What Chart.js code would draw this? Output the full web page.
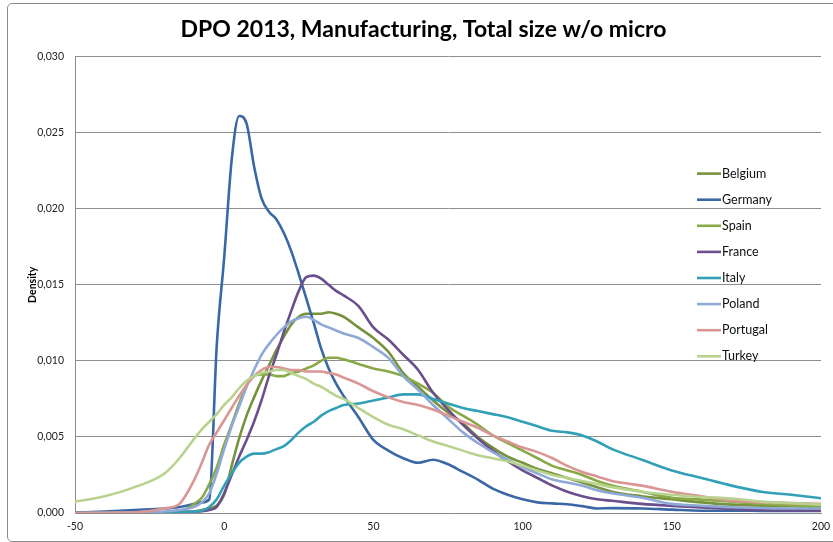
<!DOCTYPE html>
<html>
<head>
<meta charset="utf-8">
<script src="https://cdn.jsdelivr.net/npm/chart.js@4/dist/chart.umd.min.js"></script>
<style>
  html, body { margin: 0; padding: 0; background: #fff; overflow: hidden; }
  #wrap { position: relative; width: 833px; height: 542px; overflow: hidden; }
  #frame { position: absolute; left: 7px; top: 3px; width: 840px; height: 537px; border: 1px solid #8c8c8c; border-radius: 5px; pointer-events: none; }
</style>
</head>
<body>
<div id="wrap">
  <canvas id="c" width="833" height="542"></canvas>
  <div id="frame"></div>
</div>
<script>
const chartTitle = 'DPO 2013, Manufacturing, Total size w/o micro';
const yTitle = 'Density';
const seriesNames = ['Belgium', 'Germany', 'Spain', 'France', 'Italy', 'Poland', 'Portugal', 'Turkey'];
const seriesColors = ['#76923C', '#3A68A6', '#88A946', '#6A4E8D', '#32A0B7', '#8EA9D6', '#D99694', '#B9D38F'];

const xValues = [-50,-40,-30,-20,-15,-10,-7.5,-5,-2.5,
  0,2.5,5,7.5,10,12.5,15,17.5,20,22.5,25,27.5,30,32.5,35,37.5,40,
  45,50,55,60,65,70,75,80,85,90,95,100,105,110,115,120,125,130,
  140,150,160,170,180,190,200];

const belgium = [0,0,0,0.00002,0.00005,0.0001,0.0002,0.0003,0.0005,
  0.0012,0.0031,0.0049,0.0064,0.0076,0.0087,0.0097,0.0107,0.0116,0.0124,0.0129,0.0131,0.0131,0.0131,0.0132,0.0131,0.0129,
  0.0122,0.0115,0.0106,0.0092,0.0083,0.0074,0.0066,0.0059,0.0050,0.0043,0.0037,0.0033,0.0029,0.0026,0.0023,0.0020,0.0017,0.0014,
  0.0011,0.0009,0.0007,0.00055,0.00048,0.00045,0.0004];

const germany = [0.00003,0.0001,0.0002,0.0003,0.0004,0.0006,0.0007,0.0009,0.0110,
  0.0168,0.0232,0.0261,0.0256,0.0228,0.0207,0.0198,0.0193,0.0184,0.0172,0.0157,0.0141,0.0125,0.0108,0.0095,0.0085,0.0077,
  0.0063,0.0048,0.0041,0.0036,0.0033,0.0035,0.0032,0.0027,0.0022,0.0016,0.0012,0.0009,0.0007,0.00063,0.00058,0.00045,0.0003,0.00032,
  0.0003,0.00022,0.00015,0.00015,0.00014,0.00013,0.00013];

const spain = [0,0,0.00001,0.00005,0.0001,0.0006,0.0010,0.0019,0.0030,
  0.0045,0.0058,0.0072,0.0084,0.0090,0.0091,0.0091,0.0090,0.0090,0.0092,0.0093,0.0095,0.0097,0.0100,0.0102,0.0102,0.0101,
  0.0098,0.0095,0.0093,0.0090,0.0085,0.0079,0.0070,0.0064,0.0058,0.0051,0.0046,0.0041,0.0036,0.0031,0.0028,0.0025,0.0021,0.0018,
  0.0014,0.0010,0.00088,0.00075,0.0006,0.0005,0.00045];

const france = [0,0,0,0.00002,0.00004,0.0001,0.00012,0.0002,0.0004,
  0.0013,0.0025,0.0037,0.0048,0.0060,0.0074,0.0090,0.0104,0.0119,0.0133,0.0146,0.0155,0.0156,0.0154,0.0150,0.0146,0.0143,
  0.0136,0.0122,0.0114,0.0104,0.0094,0.0079,0.0068,0.0058,0.0049,0.0041,0.0034,0.0028,0.0023,0.0018,0.0014,0.0011,0.0009,0.0008,
  0.0006,0.00047,0.00037,0.00027,0.0002,0.00017,0.00015];

const italy = [0,0,0,0.00002,0.00005,0.0001,0.00015,0.0004,0.0009,
  0.0018,0.0026,0.0033,0.0037,0.0039,0.0039,0.0040,0.0042,0.0044,0.0048,0.0053,0.0057,0.0060,0.0064,0.0067,0.0069,0.0071,
  0.0072,0.0074,0.0076,0.0078,0.0078,0.0075,0.0072,0.0069,0.0067,0.0065,0.0063,0.0060,0.0057,0.0054,0.0053,0.0051,0.0047,0.0042,
  0.0035,0.0028,0.0023,0.0018,0.0014,0.0012,0.00097];

const poland = [0,0.00001,0.00003,0.0001,0.0002,0.0004,0.0007,0.0013,0.0026,
  0.0042,0.0057,0.0070,0.0083,0.0094,0.0104,0.0111,0.0117,0.0122,0.0126,0.0128,0.0129,0.0127,0.0124,0.0122,0.0120,0.0118,
  0.0115,0.0109,0.0102,0.0090,0.0081,0.0071,0.0062,0.0053,0.0046,0.0040,0.0035,0.0030,0.0026,0.0022,0.0020,0.0018,0.0015,0.0013,
  0.0010,0.0006,0.00048,0.00038,0.00033,0.0003,0.0003];

const portugal = [0,0.00002,0.00005,0.0003,0.0006,0.0022,0.0033,0.0045,0.0053,
  0.0061,0.0069,0.0077,0.0084,0.0090,0.0094,0.0096,0.0096,0.0095,0.0094,0.0094,0.0093,0.0093,0.0093,0.0092,0.0091,0.0089,
  0.0085,0.0080,0.0076,0.0073,0.0071,0.0068,0.0064,0.0060,0.0056,0.0051,0.0047,0.0043,0.0040,0.0036,0.0031,0.0027,0.0024,0.0021,
  0.0018,0.0014,0.0011,0.0008,0.0007,0.00065,0.0006];

const turkey = [0.00075,0.0011,0.0017,0.0026,0.0036,0.0049,0.0055,0.0060,0.0065,
  0.0071,0.0076,0.0082,0.0087,0.0090,0.0092,0.0093,0.0094,0.0094,0.0092,0.0090,0.0088,0.0085,0.0083,0.0080,0.0077,0.0075,
  0.0069,0.0063,0.0058,0.0055,0.0051,0.0047,0.0044,0.0041,0.0038,0.0036,0.0034,0.0031,0.0028,0.0025,0.0023,0.0021,0.0019,0.0017,
  0.0014,0.0012,0.00105,0.00095,0.00075,0.00065,0.00055];

const xTicks = [-50, 0, 50, 100, 150, 200];
const yTicks = [0, 0.005, 0.010, 0.015, 0.020, 0.025, 0.030];

const seriesValues = [belgium, germany, spain, france, italy, poland, portugal, turkey];

const datasets = seriesNames.map((name, i) => ({
  label: name,
  data: xValues.map((x, j) => ({ x: x, y: seriesValues[i][j] })),
  borderColor: seriesColors[i],
  backgroundColor: seriesColors[i],
  borderWidth: 2.6,
  pointRadius: 0,
  fill: false,
  cubicInterpolationMode: 'monotone',
  order: seriesNames.length - i
}));

const FONT = 'Lato, "Open Sans", sans-serif';

const legendPlugin = {
  id: 'customLegend',
  afterDraw(chart) {
    const ctx = chart.ctx;
    const area = chart.chartArea;
    const x0 = area.left + 622;
    const y0 = area.top + 117;
    const step = 26.1;
    ctx.save();
    ctx.font = '12.5px ' + FONT;
    ctx.textBaseline = 'middle';
    ctx.textAlign = 'left';
    chart.data.datasets.forEach((ds, i) => {
      const y = y0 + i * step;
      ctx.strokeStyle = ds.borderColor;
      ctx.lineWidth = 2.6;
      ctx.beginPath();
      ctx.moveTo(x0, y);
      ctx.lineTo(x0 + 24, y);
      ctx.stroke();
      ctx.fillStyle = '#111';
      ctx.fillText(ds.label, x0 + 25, y);
    });
    ctx.restore();
  }
};

new Chart(document.getElementById('c'), {
  type: 'line',
  data: { datasets: datasets },
  options: {
    responsive: false,
    animation: false,
    layout: { padding: { left: 26, right: 12, top: 0, bottom: 0 } },
    plugins: {
      legend: { display: false },
      tooltip: { enabled: false },
      title: {
        display: true,
        text: chartTitle,
        color: '#000',
        font: { family: FONT, size: 23, weight: 'bold' },
        padding: { top: 16, bottom: 13 }
      }
    },
    scales: {
      x: {
        type: 'linear',
        min: xTicks[0],
        max: xTicks[xTicks.length - 1],
        afterBuildTicks(scale) { scale.ticks = xTicks.map(v => ({ value: v })); },
        afterFit(scale) { scale.height = 29; scale.paddingRight = 0; scale.paddingLeft = 0; },
        grid: { display: false, drawTicks: false },
        border: { display: true, color: '#8c8c8c', width: 1 },
        ticks: { color: '#222', font: { family: FONT, size: 10.5 }, padding: 7, maxRotation: 0 }
      },
      y: {
        type: 'linear',
        min: yTicks[0],
        max: yTicks[yTicks.length - 1],
        afterBuildTicks(scale) { scale.ticks = yTicks.map(v => ({ value: v })); },
        afterFit(scale) { scale.width = 49; },
        grid: { color: '#8f8f8f', lineWidth: 1, drawTicks: false },
        border: { display: true, color: '#8c8c8c', width: 1 },
        ticks: {
          color: '#222',
          font: { family: FONT, size: 10.5 },
          padding: 11,
          callback: v => v.toFixed(3).replace('.', ',')
        },
        title: {
          display: true,
          text: yTitle,
          color: '#000',
          font: { family: FONT, size: 10.5, weight: 'bold' },
          padding: { top: 0, bottom: 0 }
        }
      }
    }
  },
  plugins: [legendPlugin]
});
</script>
</body>
</html>
